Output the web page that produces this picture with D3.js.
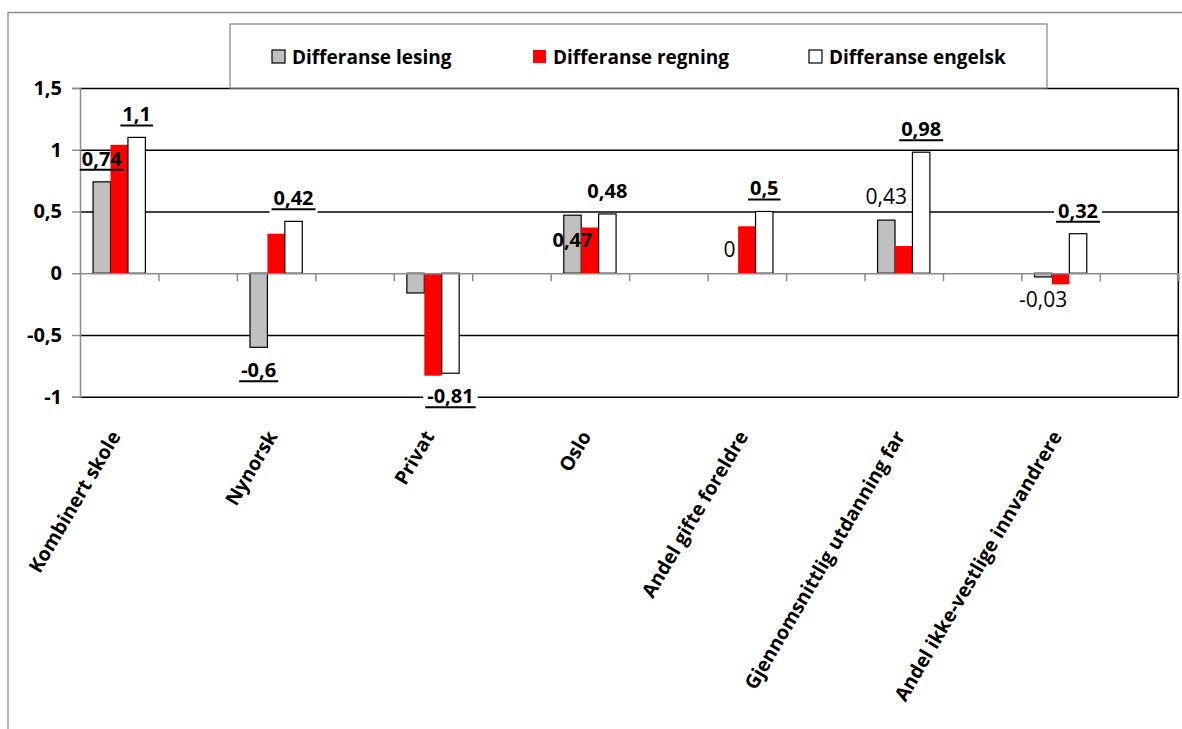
<!DOCTYPE html>
<html>
<head>
<meta charset="utf-8">
<script src="https://cdn.jsdelivr.net/npm/d3@7"></script>
<style>
  body { margin: 0; background: #fff; }
  text { font-family: "Open Sans", sans-serif; fill: #000; }
</style>
</head>
<body>
<div id="chart"></div>
<script>
// Data
var categories = ['Kombinert skole', 'Nynorsk', 'Privat', 'Oslo',
  'Andel gifte foreldre', 'Gjennomsnittlig utdanning far', 'Andel ikke-vestlige innvandrere'];
var seriesNames = ['Differanse lesing', 'Differanse regning', 'Differanse engelsk'];
var lesing = [0.74, -0.6, -0.16, 0.47, 0, 0.43, -0.03];
var regning = [1.04, 0.32, -0.83, 0.37, 0.38, 0.22, -0.09];
var engelsk = [1.1, 0.42, -0.81, 0.48, 0.5, 0.98, 0.32];
var yTicks = [-1, -0.5, 0, 0.5, 1, 1.5];

// which values carry a data label: [series, category]
var labelled = [[0, 0], [2, 0], [0, 1], [2, 1], [2, 2], [0, 3], [2, 3],
  [0, 4], [2, 4], [0, 5], [2, 5], [0, 6], [2, 6]];

var values = [lesing, regning, engelsk];
var fills = ['#c0c0c0', '#ff0000', '#ffffff'];
var strokes = ['#000', 'none', '#000'];

// label look, kept apart from the data
function labelStyle(s, c) {
  if (s === 0 && (c === 4 || c === 5 || c === 6)) return {bold: false, ul: false, box: false};
  if (s === 0 && c === 3) return {bold: true, ul: false, inside: true, box: false};
  if (s === 2 && c === 3) return {bold: true, ul: false, box: true};
  return {bold: true, ul: true, box: s === 2};
}

var width = 1182;
var height = 729;
var margin = {left: 80, top: 88, right: 1178.3, bottom: 396.7};

var svg = d3.select('#chart')
  .append('svg')
  .attr('width', width)
  .attr('height', height);

// outer frame
svg.append('path')
  .attr('d', 'M8,' + height + 'V12.5H' + width)
  .attr('fill', 'none')
  .attr('stroke', '#8c8c8c')
  .attr('stroke-width', 1.3);

// scales
var x = d3.scaleBand()
  .domain(d3.range(categories.length * 2))
  .range([margin.left, margin.right]);

var xSub = d3.scaleBand()
  .domain(d3.range(seriesNames.length))
  .range([0, x.bandwidth()])
  .paddingInner(0)
  .paddingOuter(0.75);

var y = d3.scaleLinear()
  .domain([-1, 1.5])
  .range([margin.bottom, margin.top]);

function fmt(d) {
  return String(d).replace('.', ',');
}

// gridlines
svg.append('g')
  .attr('transform', 'translate(' + margin.left + ',0)')
  .call(d3.axisLeft(y)
    .tickValues(yTicks.filter(function (d) { return d !== 0; }))
    .tickSize(-(margin.right - margin.left))
    .tickFormat(''))
  .call(function (g) {
    g.select('.domain').remove();
    g.selectAll('line').attr('stroke', '#000').attr('stroke-width', 1.6);
  });

// right border of plot
svg.append('line')
  .attr('x1', margin.right).attr('x2', margin.right)
  .attr('y1', y(1.5)).attr('y2', y(-1))
  .attr('stroke', '#000')
  .attr('stroke-width', 1.6);

// bars
values.forEach(function (vals, s) {
  svg.append('g')
    .selectAll('rect')
    .data(vals)
    .enter()
    .append('rect')
    .attr('x', function (d, i) { return x(i * 2) + xSub(s); })
    .attr('width', xSub.bandwidth())
    .attr('y', function (d) { return y(Math.max(0, d)); })
    .attr('height', function (d) { return Math.abs(y(d) - y(0)); })
    .attr('fill', fills[s])
    .attr('stroke', strokes[s])
    .attr('stroke-width', 1.2);
});

// y axis
svg.append('g')
  .attr('transform', 'translate(' + margin.left + ',0)')
  .call(d3.axisLeft(y)
    .tickValues(yTicks)
    .tickSize(8)
    .tickPadding(10)
    .tickFormat(fmt))
  .call(function (g) {
    g.select('.domain').attr('stroke', '#8c8c8c').attr('stroke-width', 1.5);
    g.selectAll('line').attr('stroke', '#8c8c8c').attr('stroke-width', 1.5);
    g.selectAll('text')
      .attr('font-size', 20)
      .attr('font-weight', 'bold')
      .attr('font-family', '"Open Sans", sans-serif')
      .attr('fill', '#000');
  });

// x axis on zero line with ticks at slot edges
var xEdges = d3.scaleLinear()
  .domain([0, categories.length * 2])
  .range([margin.left, margin.right]);

svg.append('g')
  .attr('transform', 'translate(0,' + y(0) + ')')
  .call(d3.axisBottom(xEdges)
    .tickValues(d3.range(1, categories.length * 2 + 1))
    .tickSize(8)
    .tickSizeOuter(0)
    .tickFormat(''))
  .call(function (g) {
    g.select('.domain').attr('stroke', '#8c8c8c').attr('stroke-width', 1.5);
    g.selectAll('line').attr('stroke', '#8c8c8c').attr('stroke-width', 1.5);
  });

// category labels
svg.append('g')
  .selectAll('text')
  .data(categories)
  .enter()
  .append('text')
  .attr('transform', function (d, i) {
    return 'translate(' + (x(i * 2) + x.bandwidth() / 2 + 2) + ',436) rotate(-59.5)';
  })
  .attr('text-anchor', 'end')
  .attr('font-size', 19.5)
  .attr('font-weight', 'bold')
  .text(function (d) { return d; });

// data labels
var labelLayer = svg.append('g');
labelled.forEach(function (p) {
  var s = p[0], c = p[1];
  var v = values[s][c];
  var st = labelStyle(s, c);
  var cx = x(c * 2) + xSub(s) + xSub.bandwidth() / 2;
  var by;
  if (st.inside) by = y(v) + 32;
  else if (v >= 0) by = y(v) - 16;
  else by = y(v) + 30;

  var g = labelLayer.append('g');
  var bg = g.append('rect').attr('fill', '#fff');
  var t = g.append('text')
    .attr('x', cx)
    .attr('y', by)
    .attr('text-anchor', 'middle')
    .attr('font-size', st.bold ? 20 : 21)
    .attr('font-weight', st.bold ? 'bold' : 'normal')
    .text(fmt(v));
  var w = t.node().getComputedTextLength();
  if (st.ul) {
    g.append('line')
      .attr('x1', cx - w / 2 - 2).attr('x2', cx + w / 2 + 2)
      .attr('y1', by + 4).attr('y2', by + 4)
      .attr('stroke', '#000')
      .attr('stroke-width', 2);
  }
  if (st.box) {
    bg.attr('x', cx - w / 2 - 4)
      .attr('y', by - 16)
      .attr('width', w + 8)
      .attr('height', 24);
  } else {
    bg.remove();
  }
});

// legend
var legend = svg.append('g');
legend.append('rect')
  .attr('x', 230).attr('y', 24)
  .attr('width', 817).attr('height', 64)
  .attr('fill', '#fff')
  .attr('stroke', '#8c8c8c')
  .attr('stroke-width', 1.3);

var legendX = [272, 533, 809];
seriesNames.forEach(function (name, s) {
  legend.append('rect')
    .attr('x', legendX[s]).attr('y', 50)
    .attr('width', 13).attr('height', 13)
    .attr('fill', fills[s])
    .attr('stroke', strokes[s])
    .attr('stroke-width', 1.2);
  legend.append('text')
    .attr('x', legendX[s] + 20)
    .attr('y', 64)
    .attr('font-size', 19)
    .attr('font-weight', 'bold')
    .text(name);
});
</script>
</body>
</html>
